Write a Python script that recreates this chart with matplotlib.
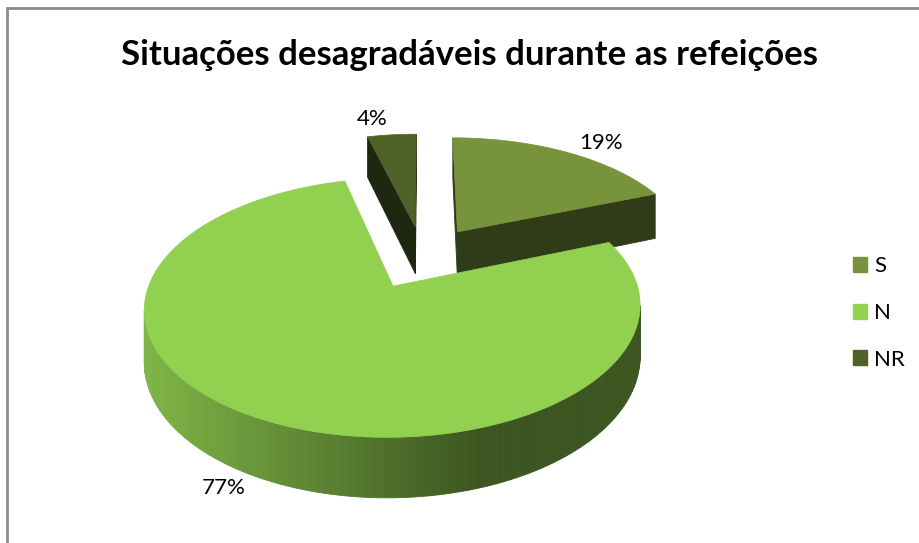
import numpy as np
import matplotlib.pyplot as plt
from matplotlib.patches import Polygon, Patch
from matplotlib.colors import to_rgb

# data
categories = ['S', 'N', 'NR']
values = [19, 77, 4]
pct_labels = ['19%', '77%', '4%']
colors = ['#77933C', '#92D050', '#4F6228']
title = 'Situações desagradáveis durante as refeições'

# 3d view settings (pixel-like units, y up)
W, Hpx = 920, 543
cx, cy = 423.0, 286.0
A, B = 235.0, 116.5
p = 0.16
thick = 48.5
explode = 0.27

plt.rcParams['font.family'] = ['Lato', 'DejaVu Sans']

fig = plt.figure(figsize=(9.2, 5.43), dpi=100)
ax = fig.add_axes([0, 0, 1, 1])
ax.set_xlim(0, W)
ax.set_ylim(0, Hpx)
ax.axis('off')


def proj(x, y, z):
    s = 1.0 / (1.0 + p * y)
    return cx + A * x * s, cy + B * y * s + thick * z * s


def area(pts):
    pts = np.asarray(pts)
    x, y = pts[:, 0], pts[:, 1]
    return 0.5 * np.sum(x * np.roll(y, -1) - np.roll(x, -1) * y)


def rim_factor(X):
    t = np.clip((X - 145) / (480 - 145), 0, 1)
    return 0.87 - 0.46 * t


# build slices
fracs = np.array(values) / np.sum(values)
starts = np.concatenate([[0], np.cumsum(fracs)[:-1]]) * 2 * np.pi
ends = np.cumsum(fracs) * 2 * np.pi

slices = []
for i in range(len(values)):
    mid = (starts[i] + ends[i]) / 2
    ox, oy = explode * np.sin(mid), explode * np.cos(mid)
    slices.append((oy, i, ox, mid))

z = 1
label_pos = {}
for oy, i, ox, mid in sorted(slices, reverse=True):
    th = np.linspace(starts[i], ends[i], max(4, int(240 * fracs[i])))
    rx = ox + np.sin(th)
    ry = oy + np.cos(th)
    base = np.array(to_rgb(colors[i]))
    faces = []
    # cut faces
    a0 = [proj(ox, oy, 0), proj(rx[0], ry[0], 0), proj(rx[0], ry[0], -1), proj(ox, oy, -1)]
    a1 = [proj(rx[-1], ry[-1], 0), proj(ox, oy, 0), proj(ox, oy, -1), proj(rx[-1], ry[-1], -1)]
    for f in (a0, a1):
        if area(f) > 0:
            faces.append((f, base * 0.4))
    # outer side
    for k in range(len(th) - 1):
        q = [proj(rx[k], ry[k], 0), proj(rx[k + 1], ry[k + 1], 0),
             proj(rx[k + 1], ry[k + 1], -1), proj(rx[k], ry[k], -1)]
        if area(q) > 0:
            Xm = np.mean([pt[0] for pt in q])
            faces.append((q, np.clip(base * rim_factor(Xm), 0, 1)))
    for f, c in faces:
        ax.add_patch(Polygon(f, closed=True, facecolor=c, edgecolor=c, lw=0.6, zorder=z))
        z += 1
    top = [proj(ox, oy, 0)] + [proj(a, b, 0) for a, b in zip(rx, ry)]
    ax.add_patch(Polygon(top, closed=True, facecolor=base, edgecolor=base, lw=0.5, zorder=z))
    z += 1
    # label anchor on the rim at the bisector, pushed outwards on screen
    lx, ly = ox + np.sin(mid), oy + np.cos(mid)
    front = np.cos(mid) < 0
    anchor = np.array(proj(lx, ly, -1 if front else 0))
    d = np.array([np.sin(mid) * A, np.cos(mid) * B])
    d = d / np.hypot(*d)
    label_pos[i] = (anchor + 16 * d, d)

for i, (pos, d) in label_pos.items():
    ha = 'left' if d[0] > 0.2 else ('right' if d[0] < -0.2 else 'center')
    ax.text(pos[0], pos[1], pct_labels[i], fontsize=16, ha=ha, va='center', zorder=z)

ax.text(470, Hpx - 55, title, fontsize=25, fontweight='bold', ha='center', va='center')

# chart frame
ax.plot([7, 7, W], [0, Hpx - 8, Hpx - 8], color='#8c8c8c', lw=2, solid_joinstyle='miter')

handles = [Patch(facecolor=c, edgecolor=c) for c in colors]
ax.legend(handles, categories, loc='center left', bbox_to_anchor=(844 / W, (Hpx - 313) / Hpx),
          frameon=False, fontsize=16, handlelength=0.65, handleheight=0.65,
          handletextpad=0.3, labelspacing=1.2, borderaxespad=0)

fig.savefig('out.png', dpi=100)
